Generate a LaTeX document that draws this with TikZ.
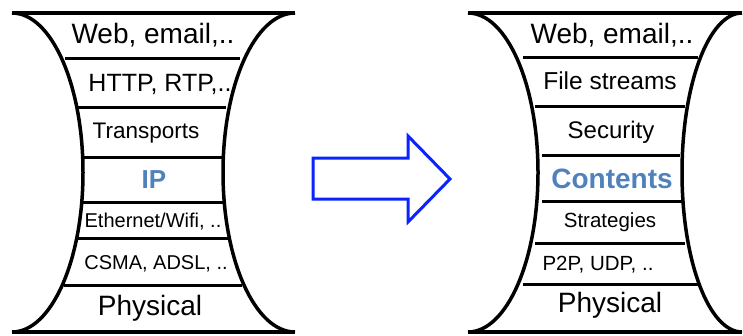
\documentclass[tikz,border=0pt]{standalone}
\usepackage{fontspec}
\setmainfont{Liberation Sans}
\definecolor{netblue}{RGB}{79,129,189}
\definecolor{arrowblue}{RGB}{10,36,255}

\begin{document}
\begin{tikzpicture}[x=1pt,y=-1pt,
  every node/.append style={inner sep=0pt},
  rim/.style={line width=3.5pt},
  sep/.style={line width=3pt},
  lab/.style={font=\fontsize{#1}{#1}\selectfont},
  core/.style={font=\fontsize{#1}{#1}\selectfont\bfseries,text=netblue}]
  \useasboundingbox (0,0) rectangle (743,335);

  % left stack (IP hourglass)
  \draw[rim] (12,13) -- (295,13);
  \draw[rim] (12,332) -- (295,332);
  \draw[rim] (12,13) arc[start angle=-90,end angle=90,x radius=71,y radius=159.5];
  \draw[rim] (295,13) arc[start angle=-90,end angle=-270,x radius=72,y radius=159.5];
  \draw[sep] (65,58) -- (240,58);
  \draw[sep] (78,107) -- (226,107);
  \draw[sep] (82,157) -- (222,157);
  \draw[sep] (82,202) -- (223,202);
  \draw[sep] (77,238) -- (228,238);
  \draw[sep] (64,285) -- (242,285);

  \node[lab=28] (lweb) at (153,35) {Web, email,..};
  \node[lab=25] (lhttp) at (160,84) {HTTP, RTP,..};
  \node[lab=22.5] (ltrans) at (146,133) {Transports};
  \node[core=26] (lip) at (154,180) {IP};
  \node[lab=20] (leth) at (153,222) {Ethernet/Wifi, ..};
  \node[lab=20] (lcsma) at (156,264) {CSMA, ADSL, ..};
  \node[lab=28] (lphy) at (150,308) {Physical};

  % arrow
  \draw[line width=3pt,arrowblue,line join=miter]
    (313,158) -- (408,158) -- (408,136) -- (450,179) -- (408,222) -- (408,199) -- (313,199) -- cycle;

  % right stack (content hourglass)
  \draw[rim] (468,13) -- (742,13);
  \draw[rim] (468,332) -- (742,332);
  \draw[rim] (468,13) arc[start angle=-90,end angle=90,x radius=70,y radius=159.5];
  \draw[rim] (742,13) arc[start angle=-90,end angle=-270,x radius=60,y radius=159.5];
  \draw[sep] (523,57) -- (698,57);
  \draw[sep] (535,106) -- (685,106);
  \draw[sep] (542,155) -- (680,155);
  \draw[sep] (542,201) -- (682,201);
  \draw[sep] (535,243) -- (685,243);
  \draw[sep] (523,284) -- (700,284);

  \node[lab=28] (rweb) at (612,35) {Web, email,..};
  \node[lab=24.5] (rfile) at (610,81) {File streams};
  \node[lab=24] (rsec) at (611,132) {Security};
  \node[core=28] (rcont) at (612,179) {Contents};
  \node[lab=20.5] (rstrat) at (610,222) {Strategies};
  \node[lab=20.5] (rp2p) at (598,265) {P2P, UDP, ..};
  \node[lab=28] (rphy) at (610,305) {Physical};
\end{tikzpicture}
\end{document}
